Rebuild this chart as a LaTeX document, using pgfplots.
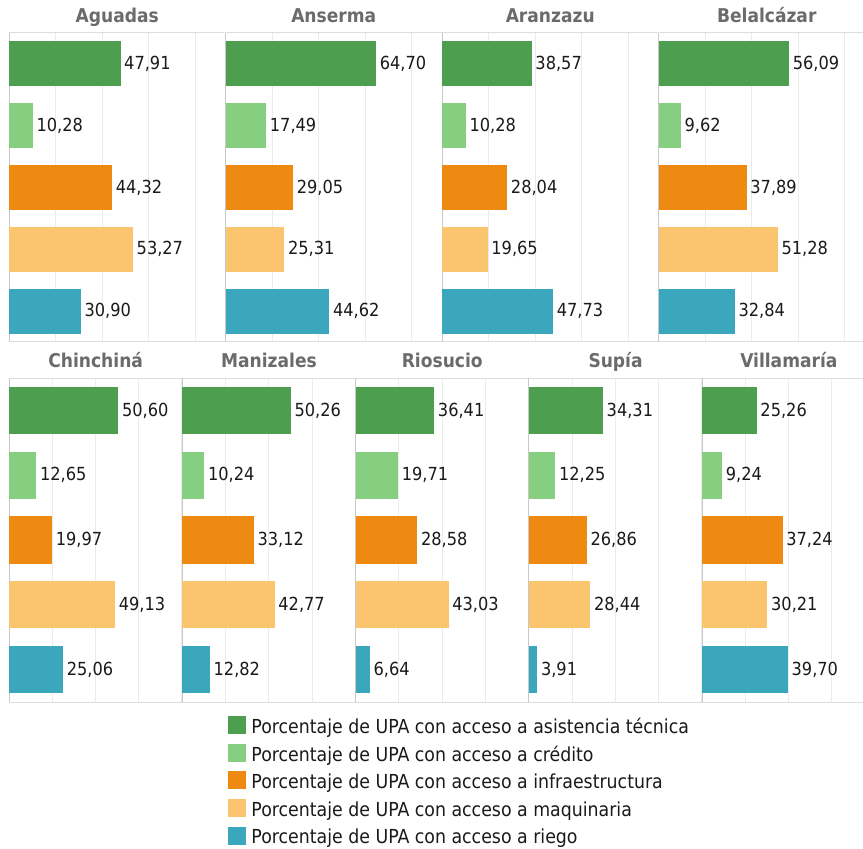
\documentclass[border=0pt]{standalone}
\usepackage{fontspec}
\setmainfont{DejaVu Sans Condensed}
\usepackage{pgfplots}
\usepackage{pgfplotstable}
\pgfplotsset{compat=1.18}

\definecolor{c1}{HTML}{4E9E50}
\definecolor{c2}{HTML}{86CF80}
\definecolor{c3}{HTML}{EE8A12}
\definecolor{c4}{HTML}{FBC46E}
\definecolor{c5}{HTML}{3BA7BC}
\definecolor{gridc}{HTML}{EBEBEB}
\definecolor{framec}{HTML}{DDDDDD}
\definecolor{leftc}{HTML}{C8C8C8}
\definecolor{titlec}{HTML}{6B6B6B}
\definecolor{textc}{HTML}{1A1A1A}

% rows = access type, columns = municipality
\pgfplotstableread{
idx Aguadas Anserma Aranzazu Belalcazar Chinchina Manizales Riosucio Supia Villamaria
0   47.91   64.70   38.57    56.09      50.60     50.26     36.41    34.31 25.26
1   10.28   17.49   10.28    9.62       12.65     10.24     19.71    12.25 9.24
2   44.32   29.05   28.04    37.89      19.97     33.12     28.58    26.86 37.24
3   53.27   25.31   19.65    51.28      49.13     42.77     43.03    28.44 30.21
4   30.90   44.62   47.73    32.84      25.06     12.82     6.64     3.91  39.70
}\datos

\pgfplotsset{
  sq legend/.style={legend image code/.code={\fill[##1,draw=none] (0bp,-9bp) rectangle (18bp,9bp);}},
  panel/.style={
    xbar, scale only axis, anchor=south west,
    xmin=0, ymin=-0.5, ymax=4.5, y dir=reverse,
    enlargelimits=false, clip=false,
    bar width=0.73,
    xtick={20,40,60,80}, xticklabels={}, ytick=\empty, major tick length=0pt,
    xmajorgrids, major grid style={draw=gridc, line width=0.8bp},
    axis x line=box, axis y line=left, axis line style={-},
    x axis line style={draw=framec, line width=1bp},
    y axis line style={draw=leftc, line width=1bp},
    point meta=x,
    nodes near coords={\pgfmathprintnumber[fixed,fixed zerofill,precision=2,use comma,assume math mode=true]{\pgfplotspointmeta}},
    every node near coord/.append style={font=\fontsize{18bp}{21bp}\selectfont, text=textc, anchor=west, inner sep=0pt, xshift=3.5bp},
    title style={font=\fontsize{19bp}{22bp}\selectfont\bfseries, text=titlec, anchor=base, at={(0.5,1)}, yshift=4.5bp, inner sep=0pt},
    cycle list={{fill=c1,draw=none},{fill=c2,draw=none},{fill=c3,draw=none},{fill=c4,draw=none},{fill=c5,draw=none}},
  },
  top/.style={width=216.5bp, height=309bp, xmax=93},
  bottom/.style={width=173.3bp, height=324bp, xmax=80.2},
}

\newcommand{\panel}[5][]{%
  \begin{axis}[panel, #1, at={(#4bp,#5bp)}, title={#3}]
    \pgfplotsinvokeforeach{0,...,4}{%
      \addplot+[bar shift=0pt, sq legend, restrict y to domain=##1:##1] table[x=#2, y=idx] {\datos};
    }
  \end{axis}%
}

\begin{document}
\begin{tikzpicture}
\useasboundingbox (0,0) rectangle (863bp,849bp);
\clip (0,0) rectangle (863bp,849bp);

\panel[top]{Aguadas}{Aguadas}{9}{507}
\panel[top]{Anserma}{Anserma}{225.5}{507}
\panel[top]{Aranzazu}{Aranzazu}{442}{507}
\panel[top]{Belalcazar}{Belalcázar}{658.5}{507}

\panel[bottom,
  legend entries={
    \rule[-3bp]{0pt}{21bp}Porcentaje de UPA con acceso a asistencia técnica,
    \rule[-3bp]{0pt}{21bp}Porcentaje de UPA con acceso a crédito,
    \rule[-3bp]{0pt}{21bp}Porcentaje de UPA con acceso a infraestructura,
    \rule[-3bp]{0pt}{21bp}Porcentaje de UPA con acceso a maquinaria,
    \rule[-3bp]{0pt}{21bp}Porcentaje de UPA con acceso a riego},
  legend cell align=left,
  legend style={at={(1.2637,-0.0418)}, anchor=north west, draw=none, fill=none,
    inner sep=0pt, outer sep=0pt, font=\fontsize{19.3bp}{22bp}\selectfont, text=textc,
    row sep=8.1bp, nodes={inner sep=0pt},
    /tikz/every odd column/.append style={column sep=5.5bp}}
  ]{Chinchina}{Chinchiná}{9}{147}
\panel[bottom]{Manizales}{Manizales}{182.3}{147}
\panel[bottom]{Riosucio}{Riosucio}{355.6}{147}
\panel[bottom]{Supia}{Supía}{528.9}{147}
\panel[bottom]{Villamaria}{Villamaría}{702.2}{147}
\end{tikzpicture}
\end{document}
